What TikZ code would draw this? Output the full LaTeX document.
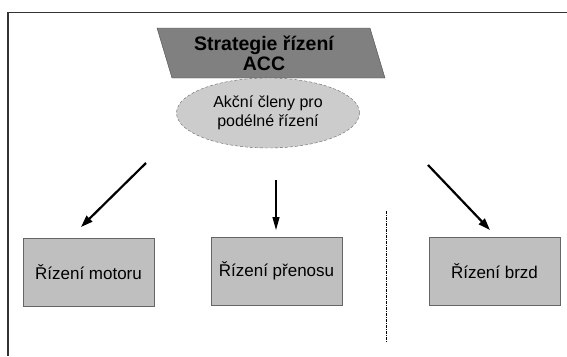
\documentclass[tikz,border=0pt]{standalone}
\usepackage{fontspec}
\setmainfont{Liberation Sans}
\usetikzlibrary{shapes.geometric,arrows.meta}
\begin{document}
\begin{tikzpicture}[x=1pt,y=-1pt,
  box/.style={draw=black!60,line width=1pt,fill=black!25,minimum width=131pt,minimum height=68pt,inner sep=0pt,font=\fontsize{17}{19}\selectfont},
  thickarrow/.style={line width=2.2pt,-{Triangle[length=12pt,width=8pt]}},
  thinarrow/.style={line width=1.2pt,-{Triangle[length=13pt,width=7pt]}}]
\useasboundingbox (0,0) rectangle (567,356);
\draw [line width=1.5pt,color=black!80] (567,12.5) -- (8,12.5) -- (8,356);
\draw [draw=black!70, fill=black!50] (157,28) -- (370,28) -- (385,78) -- (172,78) -- cycle;
\node [align=center, inner sep=0pt, font=\fontsize{19.5}{20}\selectfont\bfseries] (strategie) at (264,53) {Strategie řízení\\ACC};
\node [ellipse, draw=black!60, densely dashed, fill=black!20, minimum width=183pt, minimum height=70pt, inner sep=0pt, align=center, font=\fontsize{16}{19}\selectfont] (akcni) at (268,113) {Akční členy pro\\podélné řízení};
\node [box] (motor) at (88.5,272.5) {Řízení motoru};
\node [box] (prenos) at (276.5,271) {Řízení přenosu};
\node [box] (brzdy) at (494.5,271) {Řízení brzd};
\coordinate (m1) at (146,163);
\coordinate (m2) at (81,227);
\coordinate (p1) at (276,180);
\coordinate (p2) at (276,230);
\coordinate (b1) at (428,165);
\coordinate (b2) at (490,230);
\coordinate (d1) at (386,211);
\coordinate (d2) at (386,343);
\draw [thickarrow] (m1) -- (m2);
\draw [thinarrow] (p1) -- (p2);
\draw [thickarrow] (b1) -- (b2);
\draw [line width=0.8pt, dash pattern=on 3pt off 1pt on 1pt off 1pt] (d1) -- (d2);
\end{tikzpicture}
\end{document}
